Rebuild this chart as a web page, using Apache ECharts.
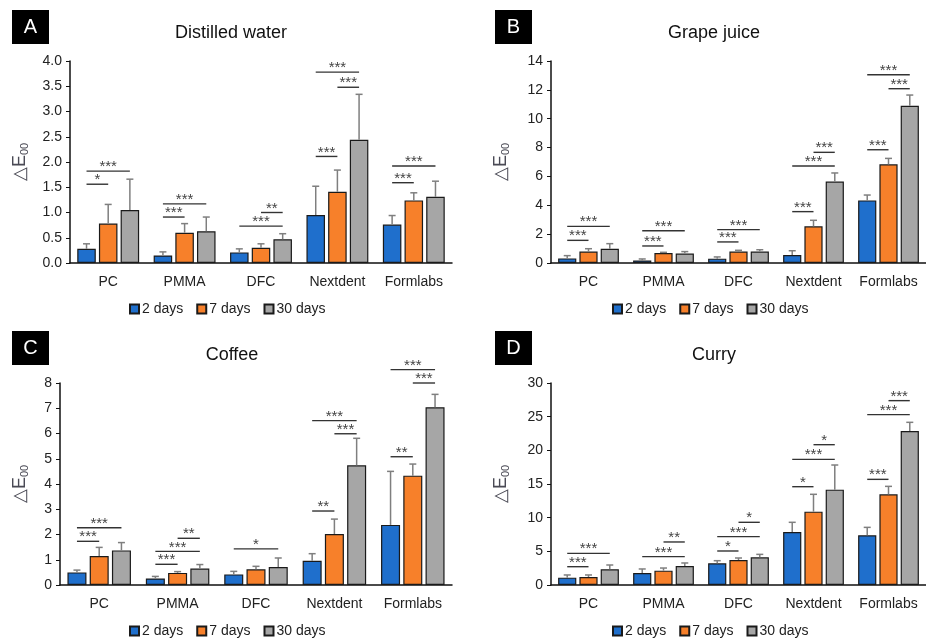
<!DOCTYPE html>
<html>
<head>
<meta charset="utf-8">
<script src="https://cdn.jsdelivr.net/npm/echarts@6/dist/echarts.min.js"></script>
<style>
    html, body { margin: 0; padding: 0; background: #fff; }
    #chart { width: 926px; height: 642px; }
</style>
</head>
<body>
<div id="chart"></div>
<script>
const categories = ['PC', 'PMMA', 'DFC', 'Nextdent', 'Formlabs'];
const seriesNames = ['2 days', '7 days', '30 days'];
const colors = ['#1f6fcc', '#f7802a', '#a6a6a6'];

// A - distilled water (mean, sd)
const waterMean2 = [0.28, 0.15, 0.21, 0.95, 0.76];
const waterSd2 = [0.10, 0.07, 0.07, 0.57, 0.18];
const waterMean7 = [0.78, 0.60, 0.30, 1.41, 1.24];
const waterSd7 = [0.38, 0.18, 0.08, 0.43, 0.15];
const waterMean30 = [1.05, 0.63, 0.47, 2.44, 1.31];
const waterSd30 = [0.61, 0.28, 0.11, 0.90, 0.31];

// B - grape juice
const grapeMean2 = [0.32, 0.18, 0.30, 0.55, 4.34];
const grapeSd2 = [0.19, 0.10, 0.12, 0.30, 0.37];
const grapeMean7 = [0.79, 0.69, 0.79, 2.54, 6.84];
const grapeSd7 = [0.20, 0.05, 0.09, 0.42, 0.41];
const grapeMean30 = [0.99, 0.65, 0.79, 5.64, 10.90];
const grapeSd30 = [0.35, 0.14, 0.13, 0.60, 0.74];

// C - coffee
const coffeeMean2 = [0.50, 0.26, 0.42, 0.96, 2.38];
const coffeeSd2 = [0.09, 0.08, 0.12, 0.28, 2.12];
const coffeeMean7 = [1.15, 0.48, 0.62, 2.02, 4.33];
const coffeeSd7 = [0.34, 0.05, 0.12, 0.59, 0.46];
const coffeeMean30 = [1.37, 0.65, 0.71, 4.74, 7.04];
const coffeeSd30 = [0.31, 0.16, 0.36, 1.07, 0.51];

// D - curry
const curryMean2 = [1.09, 1.78, 3.22, 7.87, 7.38];
const currySd2 = [0.40, 0.60, 0.39, 1.44, 1.18];
const curryMean7 = [1.19, 2.13, 3.71, 10.89, 13.47];
const currySd7 = [0.30, 0.39, 0.30, 2.58, 1.18];
const curryMean30 = [2.33, 2.82, 4.11, 14.16, 22.87];
const currySd30 = [0.64, 0.45, 0.44, 3.66, 1.29];

// significance brackets: [category, fromBar, toBar, height, stars]
const waterSig = [
    [0, 0, 1, 1.56, 1], [0, 0, 2, 1.82, 3],
    [1, 0, 1, 0.91, 3], [1, 0, 2, 1.17, 3],
    [2, 0, 2, 0.73, 3], [2, 1, 2, 1.00, 2],
    [3, 0, 1, 2.11, 3], [3, 0, 2, 3.78, 3], [3, 1, 2, 3.48, 3],
    [4, 0, 1, 1.59, 3], [4, 0, 2, 1.92, 3],
];
const grapeSig = [
    [0, 0, 1, 1.57, 3], [0, 0, 2, 2.54, 3],
    [1, 0, 1, 1.18, 3], [1, 0, 2, 2.24, 3],
    [2, 0, 1, 1.46, 3], [2, 0, 2, 2.31, 3],
    [3, 0, 1, 3.56, 3], [3, 0, 2, 6.72, 3], [3, 1, 2, 7.67, 3],
    [4, 0, 1, 7.85, 3], [4, 0, 2, 13.05, 3], [4, 1, 2, 12.08, 3],
];
const coffeeSig = [
    [0, 0, 1, 1.73, 3], [0, 0, 2, 2.27, 3],
    [1, 0, 1, 0.82, 3], [1, 0, 2, 1.33, 3], [1, 1, 2, 1.85, 2],
    [2, 0, 2, 1.43, 1],
    [3, 0, 1, 2.93, 2], [3, 0, 2, 6.51, 3], [3, 1, 2, 5.99, 3],
    [4, 0, 1, 5.08, 2], [4, 0, 2, 8.53, 3], [4, 1, 2, 8.00, 3],
];
const currySig = [
    [0, 0, 1, 2.72, 3], [0, 0, 2, 4.70, 3],
    [1, 0, 2, 4.21, 3], [1, 1, 2, 6.39, 2],
    [2, 0, 1, 5.05, 1], [2, 0, 2, 7.18, 3], [2, 1, 2, 9.31, 1],
    [3, 0, 1, 14.60, 1], [3, 0, 2, 18.66, 3], [3, 1, 2, 20.84, 1],
    [4, 0, 1, 15.69, 3], [4, 0, 2, 25.30, 3], [4, 1, 2, 27.38, 3],
];

const FONT = '"Liberation Sans", Arial, sans-serif';
const BAR_GAP = 0.17;
const CAT_GAP = 0.19;
// bar center offset (fraction of band) for bar i of 3
const barOffset = (i) => {
    const w = (1 - CAT_GAP) / (3 + 2 * BAR_GAP);
    return (i - 1) * w * (1 + BAR_GAP);
};

const panels = [
    {tag: 'A', title: 'Distilled water', means: [waterMean2, waterMean7, waterMean30], sds: [waterSd2, waterSd7, waterSd30], sig: waterSig,
        max: 4, interval: 0.5, digits: 1, grid: {left: 70, top: 61, width: 382, height: 202}, nameGap: 40, box: [12, 10], titleX: 226, legendX: 129, legendY: 302},
    {tag: 'B', title: 'Grape juice', means: [grapeMean2, grapeMean7, grapeMean30], sds: [grapeSd2, grapeSd7, grapeSd30], sig: grapeSig,
        max: 14, interval: 2, digits: 0, grid: {left: 551, top: 61, width: 381, height: 202}, nameGap: 40, box: [495, 10], titleX: 709, legendX: 612, legendY: 302},
    {tag: 'C', title: 'Coffee', means: [coffeeMean2, coffeeMean7, coffeeMean30], sds: [coffeeSd2, coffeeSd7, coffeeSd30], sig: coffeeSig,
        max: 8, interval: 1, digits: 0, grid: {left: 60, top: 383, width: 392, height: 202}, nameGap: 30, box: [12, 331], titleX: 227, legendX: 129, legendY: 624},
    {tag: 'D', title: 'Curry', means: [curryMean2, curryMean7, curryMean30], sds: [currySd2, currySd7, currySd30], sig: currySig,
        max: 30, interval: 5, digits: 0, grid: {left: 551, top: 383, width: 381, height: 202}, nameGap: 40, box: [495, 331], titleX: 709, legendX: 612, legendY: 624},
];

const renderErr = (params, api) => {
    const band = api.size([1, 0])[0];
    const c = api.value(0);
    const si = api.value(3);
    const lo = api.coord([c, api.value(1)]);
    const hi = api.coord([c, api.value(2)]);
    const x = lo[0] + barOffset(si) * band;
    const style = {stroke: '#7f7f7f', lineWidth: 1.5};
    return {
        type: 'group',
        children: [
            {type: 'line', shape: {x1: x, y1: lo[1], x2: x, y2: hi[1]}, style},
            {type: 'line', shape: {x1: x - 3.5, y1: hi[1], x2: x + 3.5, y2: hi[1]}, style},
        ],
    };
};

const renderSig = (params, api) => {
    const band = api.size([1, 0])[0];
    const c = api.value(0);
    const p = api.coord([c, api.value(3)]);
    const x1 = p[0] + barOffset(api.value(1)) * band;
    const x2 = p[0] + barOffset(api.value(2)) * band;
    const stars = '*'.repeat(api.value(4));
    return {
        type: 'group',
        children: [
            {type: 'line', shape: {x1, y1: p[1], x2, y2: p[1]}, style: {stroke: '#333', lineWidth: 1.4}},
            {type: 'text', x: (x1 + x2) / 2, y: p[1] - 4,
                style: {text: stars, fill: '#444', font: '15px ' + FONT, align: 'center', verticalAlign: 'middle'}},
        ],
    };
};

const option = {
    animation: false,
    backgroundColor: '#fff',
    title: [],
    legend: [],
    grid: [],
    xAxis: [],
    yAxis: [],
    series: [],
    graphic: [],
};

panels.forEach((p, k) => {
    option.grid.push(p.grid);
    option.title.push({
        text: p.title, left: p.titleX, top: p.grid.top - 42, textAlign: 'center',
        textStyle: {fontFamily: FONT, fontSize: 18, fontWeight: 'normal', color: '#111'},
    });
    option.legend.push({
        data: seriesNames, left: p.legendX, top: p.legendY, icon: 'rect',
        itemWidth: 9, itemHeight: 9, itemGap: 13, padding: 0,
        textStyle: {fontFamily: FONT, fontSize: 14, color: '#222', padding: [0, 0, 0, -2]},
    });
    option.xAxis.push({
        type: 'category', gridIndex: k, data: categories,
        axisLine: {lineStyle: {color: '#111', width: 1.5}},
        axisTick: {alignWithLabel: true, length: 4, lineStyle: {color: '#111'}},
        axisLabel: {interval: 0, fontFamily: FONT, fontSize: 14, color: '#222', margin: 12},
    });
    option.yAxis.push({
        type: 'value', gridIndex: k, min: 0, max: p.max, interval: p.interval,
        name: '△E{sub|00}', nameLocation: 'middle', nameRotate: 90, nameGap: p.nameGap,
        nameTextStyle: {fontFamily: FONT, fontSize: 18, color: '#4a4a55',
            rich: {sub: {fontFamily: FONT, fontSize: 11, color: '#4a4a55', verticalAlign: 'bottom', padding: [8, 0, 0, 0]}}},
        axisLine: {show: true, lineStyle: {color: '#111', width: 1.5}},
        axisTick: {show: true, length: 4, lineStyle: {color: '#111'}},
        axisLabel: {fontFamily: FONT, fontSize: 14, color: '#222', margin: 8,
            formatter: v => v.toFixed(p.digits)},
        splitLine: {show: false},
    });
    seriesNames.forEach((name, i) => {
        option.series.push({
            name, type: 'bar', xAxisIndex: k, yAxisIndex: k,
            data: p.means[i],
            barGap: (BAR_GAP * 100) + '%', barCategoryGap: (CAT_GAP * 100) + '%',
            itemStyle: {color: colors[i], borderColor: '#1a1a1a', borderWidth: 1.2},
        });
    });
    const errData = [];
    p.means.forEach((m, i) => m.forEach((v, c) => errData.push([c, v, v + p.sds[i][c], i])));
    option.series.push({
        name: 'err' + k, type: 'custom', xAxisIndex: k, yAxisIndex: k, z: 3,
        renderItem: renderErr, encode: {x: 0, y: [1, 2]}, data: errData, clip: false,
    });
    option.series.push({
        name: 'sig' + k, type: 'custom', xAxisIndex: k, yAxisIndex: k, z: 4,
        renderItem: renderSig, encode: {x: 0, y: 3}, data: p.sig, clip: false,
    });
    option.graphic.push({
        type: 'group', left: p.box[0], top: p.box[1],
        children: [
            {type: 'rect', shape: {x: 0, y: 0, width: 37, height: 34}, style: {fill: '#000'}},
            {type: 'text', x: 18.5, y: 17, style: {text: p.tag, fill: '#fff', font: '20px ' + FONT, align: 'center', verticalAlign: 'middle'}},
        ],
    });
});

const chart = echarts.init(document.getElementById('chart'));
chart.setOption(option);
</script>
</body>
</html>
